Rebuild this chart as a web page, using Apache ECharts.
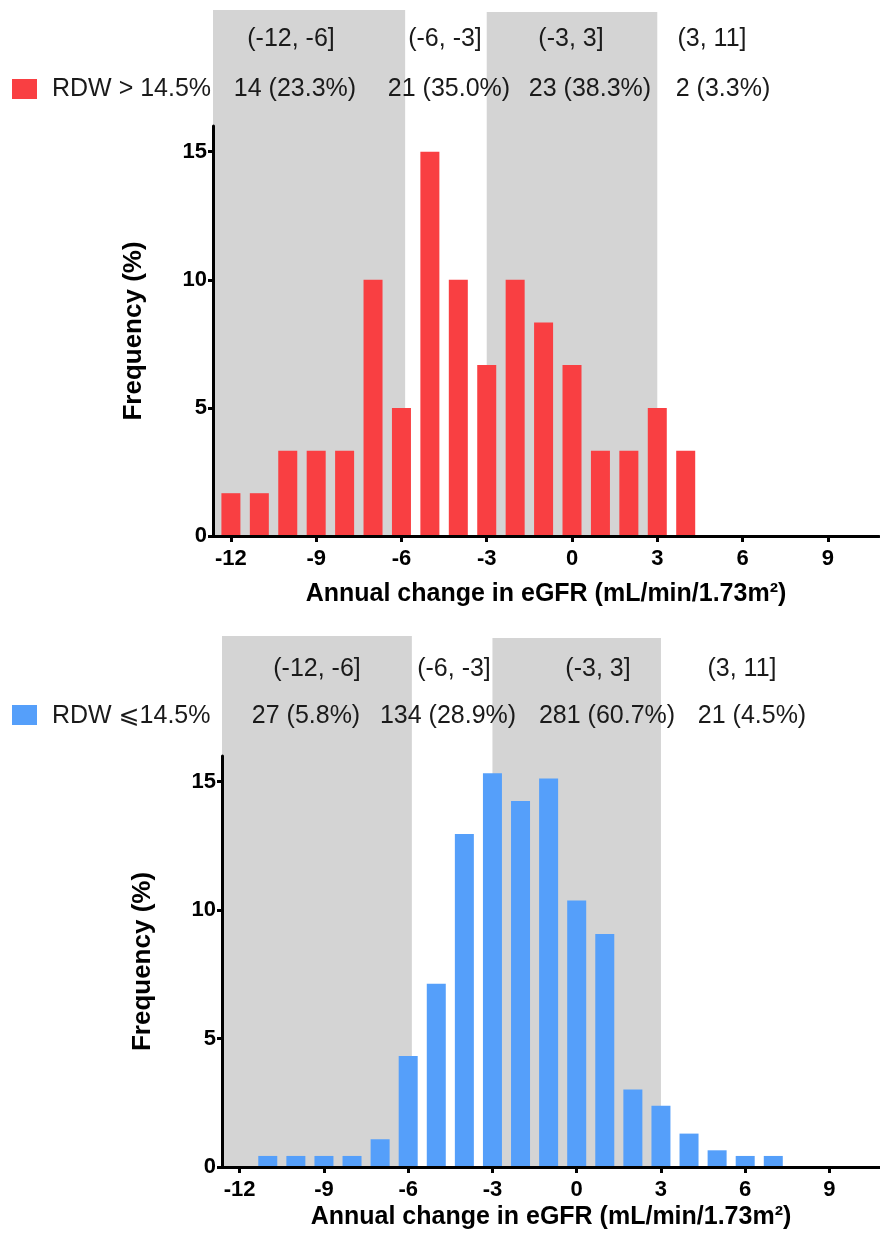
<!DOCTYPE html>
<html>
<head>
<meta charset="utf-8">
<script src="https://cdn.jsdelivr.net/npm/echarts@6/dist/echarts.min.js"></script>
<style>
html,body{margin:0;padding:0;background:#fff;}
#chart{width:880px;height:1235px;}
</style>
</head>
<body>
<div id="chart"></div>
<script>
// ---- data ----
const topX = [-12, -11, -10, -9, -8, -7, -6, -5, -4, -3, -2, -1, 0, 1, 2, 3, 4];
const topY = [1.67, 1.67, 3.33, 3.33, 3.33, 10, 5, 15, 10, 6.67, 10, 8.33, 6.67, 3.33, 3.33, 5, 3.33];
const bottomX = [-11, -10, -9, -8, -7, -6, -5, -4, -3, -2, -1, 0, 1, 2, 3, 4, 5, 6, 7];
const bottomY = [0.43, 0.43, 0.43, 0.43, 1.08, 4.32, 7.13, 12.96, 15.33, 14.25, 15.12, 10.37, 9.07, 3.02, 2.38, 1.30, 0.65, 0.43, 0.43];
const xTicks = [-12, -9, -6, -3, 0, 3, 6, 9];
const yTicks = [0, 5, 10, 15];
const bandRanges = [[-12.63, -5.87], [-3, 3]];
const intervalLabels = ['(-12, -6]', '(-6, -3]', '(-3, 3]', '(3, 11]'];
const topCounts = ['14 (23.3%)', '21 (35.0%)', '23 (38.3%)', '2 (3.3%)'];
const bottomCounts = ['27 (5.8%)', '134 (28.9%)', '281 (60.7%)', '21 (4.5%)'];
const topLegend = 'RDW > 14.5%';
const bottomLegend = 'RDW \u2A7D14.5%';
const xName = 'Annual change in eGFR (mL/min/1.73m\u00B2)';
const yName = 'Frequency (%)';

// ---- styles ----
const RED = '#F93F42';
const BLUE = '#559FFA';
const GRAY = '#D4D4D4';
const FONT = '"Liberation Sans", Arial, "DejaVu Sans", sans-serif';

const chart = echarts.init(document.getElementById('chart'), null, {renderer: 'canvas'});

function xAxisCfg(gi, gap) {
  return {
    gridIndex: gi, type: 'value', min: -12.63, max: 10.8, z: 10,
    axisLine: {show: true, onZero: false, lineStyle: {color: '#000', width: 3}},
    axisTick: {show: true, customValues: xTicks, length: 6, lineStyle: {color: '#000', width: 3}},
    axisLabel: {customValues: xTicks, fontWeight: 'bold', fontSize: 22, color: '#000', margin: 12, fontFamily: FONT},
    splitLine: {show: false},
    name: xName, nameLocation: 'middle', nameGap: gap,
    nameTextStyle: {fontWeight: 'bold', fontSize: 25, color: '#000', fontFamily: FONT}
  };
}
function yAxisCfg(gi) {
  return {
    gridIndex: gi, type: 'value', min: 0, max: 16, z: 10,
    axisLine: {show: true, onZero: false, lineStyle: {color: '#000', width: 3}},
    axisTick: {show: true, customValues: yTicks, length: 5, lineStyle: {color: '#000', width: 3}},
    axisLabel: {customValues: yTicks, fontWeight: 'bold', fontSize: 22, color: '#000', margin: 6, fontFamily: FONT},
    splitLine: {show: false},
    name: yName, nameLocation: 'middle', nameGap: 66,
    nameTextStyle: {fontWeight: 'bold', fontSize: 26, color: '#000', fontFamily: FONT}
  };
}
function bandSeries(gi, topPx) {
  return {
    type: 'custom', xAxisIndex: gi, yAxisIndex: gi, z: 1, silent: true, clip: false,
    data: bandRanges,
    renderItem: function (params, api) {
      const a = api.coord([api.value(0), 0]);
      const b = api.coord([api.value(1), 0]);
      const t = topPx[params.dataIndex];
      return {type: 'rect', shape: {x: a[0], y: t, width: b[0] - a[0], height: a[1] - t}, style: {fill: GRAY}};
    }
  };
}
function txt(text, x, y, align, size) {
  return {type: 'text', x: x, y: y, z: 100,
    style: {text: text, fill: '#1a1a1a', fontSize: size || 25, fontFamily: FONT, align: align || 'center', verticalAlign: 'middle'}};
}

const topHeadX = [291, 445, 571, 712];
const topCountX = [295, 449, 590, 723];
const botHeadX = [317, 454, 598, 742];
const botCountX = [306, 448, 607, 752];

const graphics = [];
intervalLabels.forEach((t, i) => graphics.push(txt(t, topHeadX[i], 39)));
topCounts.forEach((t, i) => graphics.push(txt(t, topCountX[i], 89)));
graphics.push({type: 'rect', z: 100, shape: {x: 12, y: 79, width: 25, height: 20}, style: {fill: RED}});
graphics.push(txt(topLegend, 52, 89, 'left'));
intervalLabels.forEach((t, i) => graphics.push(txt(t, botHeadX[i], 669)));
bottomCounts.forEach((t, i) => graphics.push(txt(t, botCountX[i], 716)));
graphics.push({type: 'rect', z: 100, shape: {x: 12, y: 705, width: 25, height: 20}, style: {fill: BLUE}});
graphics.push(txt(bottomLegend, 52, 716, 'left'));

const option = {
  animation: false,
  backgroundColor: '#fff',
  textStyle: {fontFamily: FONT},
  grid: [
    {left: 213, top: 126, width: 666, height: 410},
    {left: 222, top: 756, width: 666, height: 411}
  ],
  xAxis: [xAxisCfg(0, 46), xAxisCfg(1, 38)],
  yAxis: [yAxisCfg(0), yAxisCfg(1)],
  series: [
    bandSeries(0, [10, 12]),
    bandSeries(1, [636, 638]),
    {type: 'bar', xAxisIndex: 0, yAxisIndex: 0, z: 3, barWidth: 19,
     data: topX.map((x, i) => [x, topY[i]]), itemStyle: {color: RED}},
    {type: 'bar', xAxisIndex: 1, yAxisIndex: 1, z: 3, barWidth: 19,
     data: bottomX.map((x, i) => [x, bottomY[i]]), itemStyle: {color: BLUE}}
  ],
  graphic: graphics
};
chart.setOption(option);
</script>
</body>
</html>
